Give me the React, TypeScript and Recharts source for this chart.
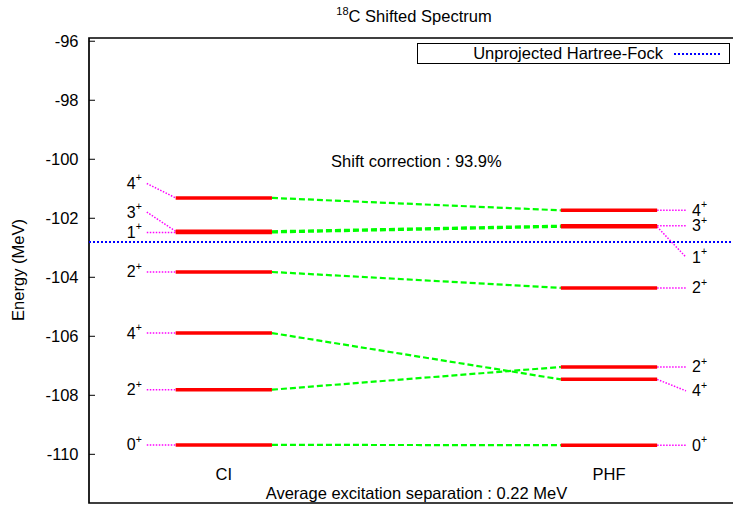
import React from 'react';
import { ComposedChart, Line, Scatter, XAxis, YAxis, Legend, ReferenceArea } from 'recharts';

// level energies (MeV)
const columns = ['CI', 'PHF'];
const ciSpins = ['4', '3', '1', '2', '4', '2', '0'];
const ciLevels = [-101.31, -102.44, -102.48, -103.82, -105.89, -107.81, -109.68];
const ciTags = [-100.82, -101.79, -102.48, -103.82, -105.89, -107.81, -109.68];
const phfSpins = ['4', '3', '1', '2', '2', '4', '0'];
const phfLevels = [-101.73, -102.25, -102.29, -104.36, -107.04, -107.46, -109.69];
const phfTags = [-101.73, -102.25, -103.32, -104.36, -107.04, -107.85, -109.69];
const hartreeFock = -102.8;
const yTicks = [-110, -108, -106, -104, -102, -100, -98, -96];
const keyText = 'Unprojected Hartree-Fock';
const shiftText = 'Shift correction : 93.9%';
const separationText = 'Average excitation separation : 0.22 MeV';

const X_MIN = 0.1;
const X_MAX = 6.85;
const Y_MIN = -111.65;
const Y_MAX = -95.89;
const CI_X = 1;
const PHF_X = 5;
const LEVEL_W = 1;
const TAG_W = 0.3;
const FONT = '"Liberation Sans", Arial, Helvetica, sans-serif';

// match each CI level with the PHF level of same spin and same order
const occurrence = (spins: string[], i: number) => spins.slice(0, i).filter(s => s === spins[i]).length;
const pairs = ciSpins.map((spin, i) => {
  const n = occurrence(ciSpins, i);
  const j = phfSpins.findIndex((s, k) => s === spin && occurrence(phfSpins, k) === n);
  return [ciLevels[i], phfLevels[j]];
});

const levelSegs = [
  ...ciLevels.map(e => [{ x: CI_X, y: e }, { x: CI_X + LEVEL_W, y: e }]),
  ...phfLevels.map(e => [{ x: PHF_X, y: e }, { x: PHF_X + LEVEL_W, y: e }]),
];
const tagSegs = [
  ...ciLevels.map((e, i) => [{ x: CI_X - TAG_W, y: ciTags[i] }, { x: CI_X, y: e }]),
  ...phfLevels.map((e, i) => [{ x: PHF_X + LEVEL_W, y: e }, { x: PHF_X + LEVEL_W + TAG_W, y: phfTags[i] }]),
];
const linkSegs = pairs.map(([a, b]) => [{ x: CI_X + LEVEL_W, y: a }, { x: PHF_X, y: b }]);
const hfSeg = [{ x: X_MIN, y: hartreeFock }, { x: X_MAX, y: hartreeFock }];

const tagLabels = [
  ...ciSpins.map((spin, i) => ({ x: CI_X - TAG_W, y: ciTags[i], spin, side: 'left' })),
  ...phfSpins.map((spin, i) => ({ x: PHF_X + LEVEL_W + TAG_W, y: phfTags[i], spin, side: 'right' })),
];
const notes = [
  { x: CI_X + LEVEL_W / 2, y: -110.68, text: columns[0] },
  { x: PHF_X + LEVEL_W / 2, y: -110.68, text: columns[1] },
  { x: 3.5, y: -100.05, text: shiftText },
  { x: 3.5, y: -111.3, text: separationText },
];

const renderTag = (props: any) => {
  const { cx, cy, payload } = props;
  const right = payload.side === 'right';
  return (
    <text x={right ? cx + 6 : cx - 5} y={cy + 5.5} textAnchor={right ? 'start' : 'end'}
      fontSize={16} fontFamily={FONT} fill="#000">
      {payload.spin}
      <tspan fontSize={10.5} dy={-7.5}>+</tspan>
    </text>
  );
};

const renderNote = (props: any) => {
  const { cx, cy, payload } = props;
  return (
    <text x={cx} y={cy} textAnchor="middle" dominantBaseline="central"
      fontSize={16.5} fontFamily={FONT} fill="#000">
      {payload.text}
    </text>
  );
};

// gnuplot style: tick marks point into the plot
const TICK_GAP = 10.5;
const renderYTick = (props: any) => {
  const { x, y, payload } = props;
  return (
    <g>
      <line x1={x + TICK_GAP} x2={x + TICK_GAP + 6} y1={y} y2={y} stroke="#000" strokeWidth={1} />
      <text x={x} y={y} textAnchor="end" dominantBaseline="central" fontSize={16.5} fontFamily={FONT} fill="#000">
        {payload.value}
      </text>
    </g>
  );
};

const renderKey = () => (
  <div style={{
    border: '1px solid #000', height: 19, width: 311, display: 'flex', alignItems: 'center',
    justifyContent: 'flex-end', fontSize: 16.5, fontFamily: FONT, color: '#000', background: '#fff',
  }}>
    <span>{keyText}</span>
    <svg width={66} height={10}>
      <line x1={11} x2={57} y1={5} y2={5} stroke="#0000ff" strokeWidth={2} strokeDasharray="2 2" />
    </svg>
  </div>
);

export default function App() {
  return (
    <div style={{ position: 'relative', width: 733, height: 506, overflow: 'hidden', fontFamily: FONT, background: '#fff' }}>
      <style>{'body{margin:0}'}</style>
      <ComposedChart width={745} height={506} margin={{ top: 38, right: 6, bottom: 3, left: 29 }}>
        <XAxis type="number" dataKey="x" domain={[X_MIN, X_MAX]} allowDataOverflow hide />
        <YAxis type="number" dataKey="y" domain={[Y_MIN, Y_MAX]} ticks={yTicks} allowDataOverflow interval={0}
          width={60} tickSize={0} tickMargin={TICK_GAP} axisLine={false} tickLine={false} tick={renderYTick} />
        <ReferenceArea x1={X_MIN} x2={X_MAX} y1={Y_MIN} y2={Y_MAX} fill="none" fillOpacity={0}
          stroke="#000" strokeWidth={1.7} />
        <Legend layout="horizontal" verticalAlign="middle" align="center" content={renderKey}
          wrapperStyle={{ top: 43, left: 417, width: 313, height: 21 }} />

        {linkSegs.map((seg, i) => (
          <Line key={`link${i}`} data={seg} dataKey="y" type="linear" stroke="#00ff00" strokeWidth={2.2}
            strokeDasharray="6 3" dot={false} activeDot={false} legendType="none" isAnimationActive={false} />
        ))}
        {tagSegs.map((seg, i) => (
          <Line key={`tag${i}`} data={seg} dataKey="y" type="linear" stroke="#ff00ff" strokeWidth={1.5}
            strokeDasharray="1.5 1.5" dot={false} activeDot={false} legendType="none" isAnimationActive={false} />
        ))}
        {levelSegs.map((seg, i) => (
          <Line key={`lvl${i}`} data={seg} dataKey="y" type="linear" stroke="#ff0000" strokeWidth={3.5}
            dot={false} activeDot={false} legendType="none" isAnimationActive={false} />
        ))}
        <Line data={hfSeg} dataKey="y" type="linear" stroke="#0000ff" strokeWidth={2}
          strokeDasharray="2 2" dot={false} activeDot={false} legendType="none" isAnimationActive={false} />

        <Scatter data={tagLabels} dataKey="y" shape={renderTag} legendType="none" isAnimationActive={false} />
        <Scatter data={notes} dataKey="y" shape={renderNote} legendType="none" isAnimationActive={false} />
      </ComposedChart>

      <div style={{ position: 'absolute', left: 264, width: 300, top: 6, textAlign: 'center', fontSize: 16.5, lineHeight: '20px', color: '#000' }}>
        <span style={{ fontSize: 11, position: 'relative', top: -7 }}>18</span>C Shifted Spectrum
      </div>
      <div style={{
        position: 'absolute', left: 18, top: 270, transform: 'translate(-50%, -50%) rotate(-90deg)',
        whiteSpace: 'nowrap', fontSize: 16.5, color: '#000',
      }}>
        Energy (MeV)
      </div>
    </div>
  );
}
